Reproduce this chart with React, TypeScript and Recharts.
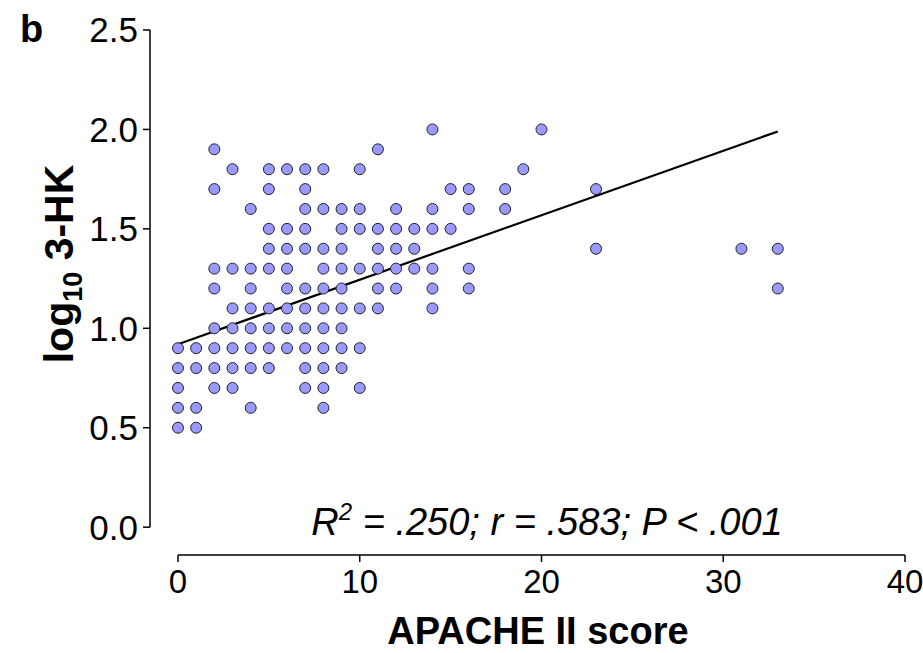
import React from 'react';
import { ScatterChart, Scatter, XAxis, YAxis, ReferenceLine } from 'recharts';

// log10 3-HK levels (rows) and the APACHE II scores found on each row
const levels = [2.0, 1.9, 1.8, 1.7, 1.6, 1.5, 1.4, 1.3, 1.2, 1.1, 1.0, 0.9, 0.8, 0.7, 0.6, 0.5];
const scoresByLevel = [
  [14, 20],
  [2, 11],
  [3, 5, 6, 7, 8, 10, 19],
  [2, 5, 7, 15, 16, 18, 23],
  [4, 7, 8, 9, 10, 12, 14, 16, 18],
  [5, 6, 7, 9, 10, 11, 12, 13, 14, 15],
  [5, 6, 7, 8, 9, 11, 12, 13, 23, 31, 33],
  [2, 3, 4, 5, 6, 8, 9, 10, 11, 12, 13, 14, 16],
  [2, 4, 6, 7, 8, 9, 11, 12, 14, 16, 33],
  [3, 4, 5, 6, 7, 8, 9, 10, 11, 14],
  [2, 3, 4, 5, 6, 7, 8, 9],
  [0, 1, 2, 3, 4, 5, 6, 7, 8, 9, 10],
  [0, 1, 2, 3, 4, 5, 7, 8, 9],
  [0, 2, 3, 7, 8, 10],
  [0, 1, 4, 8],
  [0, 1],
];

// regression line end points
const fitX = [0, 33];
const fitY = [0.92, 1.99];

const xTicks = [0, 10, 20, 30, 40];
const yTicks = [0, 0.5, 1.0, 1.5, 2.0, 2.5];

// a little room below 0 so the axes sit apart, R style
const X_START = -1.54;
const Y_START = -0.14;

const points = levels.flatMap((y, i) => scoresByLevel[i].map((x) => ({ x, y })));

const FONT = 'Arial, "Liberation Sans", Helvetica, sans-serif';

const Dot = (props: any) => (
  <circle cx={props.cx} cy={props.cy} r={5.5} fill="#9999FF" stroke="#222" strokeWidth={1} />
);

export default function App() {
  return (
    <div style={{ position: 'absolute', left: 0, top: 0, width: 923, height: 653, background: '#fff', fontFamily: FONT }}>
      <ScatterChart width={923} height={653} margin={{ top: 30, right: 18, bottom: 0, left: 0 }}>
        <XAxis
          type="number"
          dataKey="x"
          domain={[X_START, 40]}
          ticks={xTicks}
          height={98}
          axisLine={false}
          tickSize={7}
          tickMargin={8}
          tickLine={{ stroke: '#000', strokeWidth: 1.5 }}
          tick={{ fill: '#000', fontSize: 33, fontFamily: FONT }}
        />
        <YAxis
          type="number"
          dataKey="y"
          domain={[Y_START, 2.5]}
          ticks={yTicks}
          width={150}
          axisLine={false}
          tickSize={7}
          tickMargin={5}
          tickLine={{ stroke: '#000', strokeWidth: 1.5 }}
          tick={{ fill: '#000', fontSize: 35, fontFamily: FONT }}
          tickFormatter={(v) => v.toFixed(1)}
        />
        <Scatter data={points} shape={Dot} isAnimationActive={false} />
        <ReferenceLine
          segment={[{ x: fitX[0], y: fitY[0] }, { x: fitX[1], y: fitY[1] }]}
          stroke="#000"
          strokeWidth={2.2}
          ifOverflow="visible"
        />
        <ReferenceLine
          segment={[{ x: xTicks[0], y: Y_START }, { x: xTicks[xTicks.length - 1], y: Y_START }]}
          stroke="#000"
          strokeWidth={1.5}
          ifOverflow="visible"
        />
        <ReferenceLine
          segment={[{ x: X_START, y: yTicks[0] }, { x: X_START, y: yTicks[yTicks.length - 1] }]}
          stroke="#000"
          strokeWidth={1.5}
          ifOverflow="visible"
        />
      </ScatterChart>
      <svg width={923} height={653} style={{ position: 'absolute', left: 0, top: 0, pointerEvents: 'none' }} fontFamily={FONT}>
        <text x={20} y={42} fontSize={38} fontWeight="bold" fill="#000">b</text>
        <text transform="translate(73,264) rotate(-90)" textAnchor="middle" fontSize={41} fontWeight="bold" fill="#000">
          log<tspan fontSize={27} dy={9}>10</tspan>
          <tspan dy={-9}> 3-HK</tspan>
        </text>
        <text x={547} y={535} textAnchor="middle" fontSize={38} fontStyle="italic" fill="#000">
          R<tspan fontSize={24} dy={-15}>2</tspan>
          <tspan dy={15}> = .250; r = .583; P &lt; .001</tspan>
        </text>
        <text x={538} y={644} textAnchor="middle" fontSize={38} fontWeight="bold" fill="#000">APACHE II score</text>
      </svg>
    </div>
  );
}
